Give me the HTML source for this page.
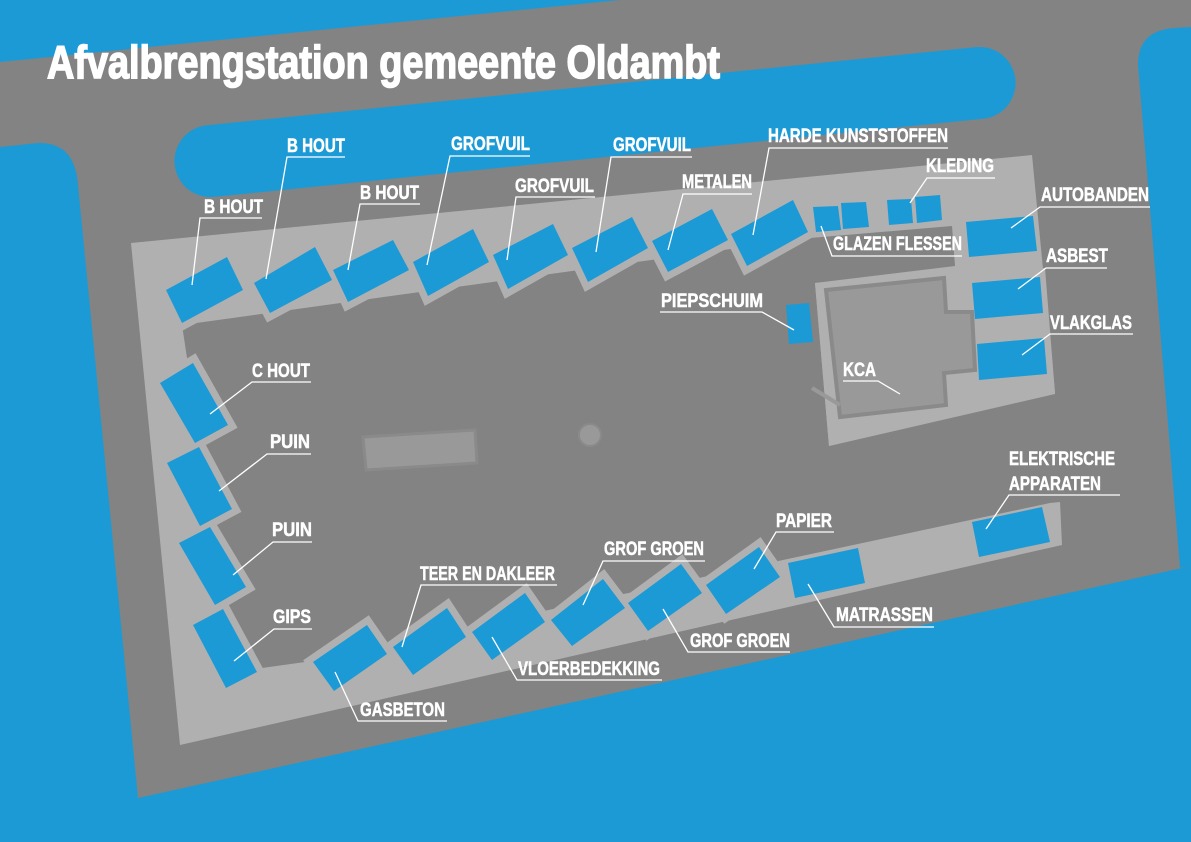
<!DOCTYPE html>
<html><head><meta charset="utf-8"><style>html,body{margin:0;padding:0;background:#1c9ad6}svg{display:block}
.t{font-family:"Liberation Sans Narrow","Liberation Sans",sans-serif;font-weight:bold;font-size:19px;fill:#fff;stroke:#fff;stroke-width:0.5}
</style></head><body>
<svg width="1191" height="842" viewBox="0 0 1191 842" xmlns="http://www.w3.org/2000/svg">
<rect width="1191" height="842" fill="#1c9ad6"/>
<path d="M0,62 L620,0 L1191,0 L1191,566 L138,798 L78,185 Q75,142 38,143 L0,147 Z" fill="#828382"/>
<path d="M1138,65 Q1138,30 1175,28 L1191,27 L1191,566 L1180,568 Z" fill="#1c9ad6"/>
<rect x="172.5" y="86" width="845" height="72" rx="36" fill="#1c9ad6" transform="rotate(-5.8 595 122)"/>
<polygon points="131,243 1032,155 1055,393 1062,545 180,745" fill="#b0b0b0"/>
<polygon points="182,325 810,238 952,226 955,266 815,283 829,446 1055,394 1080,390 1080,500 1050,503 305,662 262,668 230,640" fill="#828382"/>
<polygon points="815,283 960,272 1045,268 1055,393 829,446" fill="#b0b0b0"/>
<polygon points="826,290 944,278 946,312 972,312 975,370 944,373 946,405 840,417" fill="#999" stroke="#8a8a8a" stroke-width="4"/>
<line x1="812" y1="388" x2="840" y2="405" stroke="#999" stroke-width="4"/>
<polygon points="363,437 475,430 477,463 366,470" fill="#999" stroke="#8a8a8a" stroke-width="3"/>
<circle cx="590" cy="435" r="11" fill="#999" stroke="#8a8a8a" stroke-width="2"/>
<g fill="#1c9ad6" stroke="#b0b0b0" stroke-width="14" stroke-linejoin="miter">
<polygon points="166,290 227,257 243,290 182,323"/>
<polygon points="254,283 315,247 332,280 270,313"/>
<polygon points="333,270 393,240 409,270 348,302"/>
<polygon points="413,262 473,229 489,262 428,296"/>
<polygon points="493,255 553,224 568,255 508,289"/>
<polygon points="572,248 632,217 648,248 588,282"/>
<polygon points="652,241 712,209 728,240 668,272"/>
<polygon points="731,234 793,200 808,232 747,266"/>
<polygon points="160,383 193,363 228,425 195,443"/>
<polygon points="167,463 199,447 232,509 200,526"/>
<polygon points="179,543 210,527 246,587 215,605"/>
<polygon points="193,625 223,609 257,672 226,688"/>
<polygon points="313,662 367,625 387,654 334,691"/>
<polygon points="393,647 447,608 466,637 413,675"/>
<polygon points="472,632 525,593 545,622 492,660"/>
<polygon points="551,620 603,579 625,608 572,646"/>
<polygon points="628,603 681,564 702,593 648,631"/>
<polygon points="706,585 759,547 780,577 726,614"/>
</g>
<g fill="#1c9ad6">
<polygon points="166,290 227,257 243,290 182,323"/>
<polygon points="254,283 315,247 332,280 270,313"/>
<polygon points="333,270 393,240 409,270 348,302"/>
<polygon points="413,262 473,229 489,262 428,296"/>
<polygon points="493,255 553,224 568,255 508,289"/>
<polygon points="572,248 632,217 648,248 588,282"/>
<polygon points="652,241 712,209 728,240 668,272"/>
<polygon points="731,234 793,200 808,232 747,266"/>
<polygon points="160,383 193,363 228,425 195,443"/>
<polygon points="167,463 199,447 232,509 200,526"/>
<polygon points="179,543 210,527 246,587 215,605"/>
<polygon points="193,625 223,609 257,672 226,688"/>
<polygon points="313,662 367,625 387,654 334,691"/>
<polygon points="393,647 447,608 466,637 413,675"/>
<polygon points="472,632 525,593 545,622 492,660"/>
<polygon points="551,620 603,579 625,608 572,646"/>
<polygon points="628,603 681,564 702,593 648,631"/>
<polygon points="706,585 759,547 780,577 726,614"/>
<polygon points="788,563 858,548 865,583 795,598"/>
<polygon points="972,522 1042,507 1050,542 979,557"/>
<polygon points="966,222 1033,216 1037,251 969,257"/>
<polygon points="972,283 1040,277 1043,313 975,319"/>
<polygon points="977,344 1044,338 1047,374 979,380"/>
<polygon points="786,305 809,303 813,342 789,344"/>
<polygon points="813,207 838,206 841,230 816,232"/>
<polygon points="841,203 866,202 869,227 843,229"/>
<polygon points="887,200 911,199 913,223 889,225"/>
<polygon points="915,197 940,195 942,220 917,223"/>
</g>
<g stroke="#fff" stroke-width="1.3" fill="none">
<polyline points="262,218 200,218 192,285"/>
<polyline points="345,157 287,157 266,279"/>
<polyline points="420,204 360,204 348,270"/>
<polyline points="530,156 450,156 427,265"/>
<polyline points="595,197 516,197 507,260"/>
<polyline points="692,157 611,157 596,252"/>
<polyline points="752,194 683,194 668,250"/>
<polyline points="948,148 769,148 753,235"/>
<polyline points="995,178 927,178 910,203"/>
<polyline points="962,256 832,256 821,226"/>
<polyline points="1150,207 1040,207 1011,228"/>
<polyline points="1107,268 1046,268 1018,289"/>
<polyline points="1133,334 1050,334 1022,355"/>
<polyline points="660,312 762,312 794,330"/>
<polyline points="843,381 878,381 900,394"/>
<polyline points="311,382 252,382 210,414"/>
<polyline points="311,454 267,454 219,491"/>
<polyline points="312,542 273,542 233,575"/>
<polyline points="312,629 274,629 234,661"/>
<polyline points="557,585 421,585 402,647"/>
<polyline points="705,561 603,561 583,605"/>
<polyline points="834,532 776,532 754,569"/>
<polyline points="1120,495 1009,495 986,529"/>
<polyline points="447,721 358,721 335,672"/>
<polyline points="662,680 517,680 492,637"/>
<polyline points="790,652 688,652 663,609"/>
<polyline points="934,627 834,627 808,584"/>
</g>
<text x="47" y="78" font-family="Liberation Sans Narrow, Liberation Sans, sans-serif" font-weight="bold" font-size="46" fill="#fff" stroke="#fff" stroke-width="1.6" textLength="673" lengthAdjust="spacingAndGlyphs">Afvalbrengstation gemeente Oldambt</text>
<g class="t">
<text x="204" y="213" textLength="59" lengthAdjust="spacingAndGlyphs">B HOUT</text>
<text x="287" y="152" textLength="58" lengthAdjust="spacingAndGlyphs">B HOUT</text>
<text x="360" y="199" textLength="59" lengthAdjust="spacingAndGlyphs">B HOUT</text>
<text x="451" y="150" textLength="79" lengthAdjust="spacingAndGlyphs">GROFVUIL</text>
<text x="515" y="192" textLength="79" lengthAdjust="spacingAndGlyphs">GROFVUIL</text>
<text x="613" y="151" textLength="78" lengthAdjust="spacingAndGlyphs">GROFVUIL</text>
<text x="682" y="188" textLength="70" lengthAdjust="spacingAndGlyphs">METALEN</text>
<text x="768" y="142" textLength="180" lengthAdjust="spacingAndGlyphs">HARDE KUNSTSTOFFEN</text>
<text x="926" y="172" textLength="68" lengthAdjust="spacingAndGlyphs">KLEDING</text>
<text x="833" y="250" textLength="129" lengthAdjust="spacingAndGlyphs">GLAZEN FLESSEN</text>
<text x="1041" y="201" textLength="108" lengthAdjust="spacingAndGlyphs">AUTOBANDEN</text>
<text x="1046" y="262" textLength="62" lengthAdjust="spacingAndGlyphs">ASBEST</text>
<text x="1050" y="329" textLength="82" lengthAdjust="spacingAndGlyphs">VLAKGLAS</text>
<text x="661" y="307" textLength="102" lengthAdjust="spacingAndGlyphs">PIEPSCHUIM</text>
<text x="843" y="376" textLength="33" lengthAdjust="spacingAndGlyphs">KCA</text>
<text x="252" y="377" textLength="58" lengthAdjust="spacingAndGlyphs">C HOUT</text>
<text x="270" y="448" textLength="40" lengthAdjust="spacingAndGlyphs">PUIN</text>
<text x="272" y="536" textLength="40" lengthAdjust="spacingAndGlyphs">PUIN</text>
<text x="273" y="623" textLength="38" lengthAdjust="spacingAndGlyphs">GIPS</text>
<text x="420" y="580" textLength="135" lengthAdjust="spacingAndGlyphs">TEER EN DAKLEER</text>
<text x="604" y="555" textLength="100" lengthAdjust="spacingAndGlyphs">GROF GROEN</text>
<text x="776" y="527" textLength="56" lengthAdjust="spacingAndGlyphs">PAPIER</text>
<text x="1009" y="465" textLength="106" lengthAdjust="spacingAndGlyphs">ELEKTRISCHE</text>
<text x="1009" y="490" textLength="92" lengthAdjust="spacingAndGlyphs">APPARATEN</text>
<text x="360" y="716" textLength="85" lengthAdjust="spacingAndGlyphs">GASBETON</text>
<text x="518" y="675" textLength="142" lengthAdjust="spacingAndGlyphs">VLOERBEDEKKING</text>
<text x="690" y="647" textLength="100" lengthAdjust="spacingAndGlyphs">GROF GROEN</text>
<text x="836" y="621" textLength="97" lengthAdjust="spacingAndGlyphs">MATRASSEN</text>
</g>
</svg>
</body></html>
